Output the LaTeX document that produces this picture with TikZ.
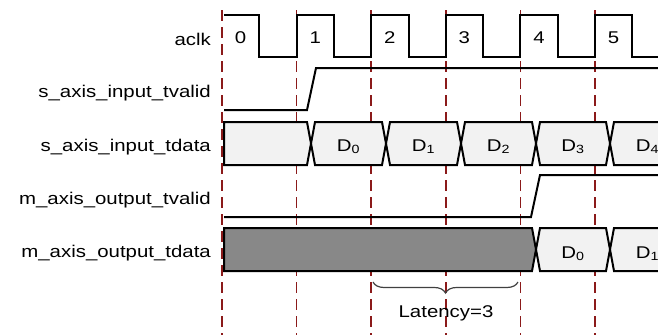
\documentclass[tikz,border=0pt]{standalone}
\usepackage{fontspec}
\setmainfont{Liberation Sans}[FakeStretch=1.2]
\usetikzlibrary{decorations.pathreplacing}

\definecolor{edgered}{RGB}{139,26,26}
\definecolor{buslight}{RGB}{242,242,242}
\definecolor{busdark}{RGB}{136,136,136}
\definecolor{bracegray}{RGB}{64,64,64}

\tikzset{
    wave/.style={line width=2pt, black, line join=miter},
    bus/.style={wave, fill=buslight},
    edgeline/.style={line width=1.7pt, edgered, dash pattern=on 11pt off 6pt},
    signame/.style={anchor=base east, inner sep=0pt, font=\fontsize{17}{20}\selectfont},
    buslabel/.style={anchor=base, inner sep=0pt, font=\fontsize{17}{20}\selectfont},
}

\begin{document}
\begin{tikzpicture}[x=1pt, y=-1pt]
    \clip (0,0) rectangle (658,335);
    \def\T{74.6}
    \def\xo{222}

    % Clock edges
    \foreach \i in {0,...,5} {
        \draw[edgeline] ({\xo+\i*\T},10) -- ({\xo+\i*\T},335);
    }

    % Signal names
    \node[signame] (aclk) at (211,45) {aclk};
    \node[signame] (sinvalid) at (211,97.5) {s\_axis\_input\_tvalid};
    \node[signame] (sindata) at (211,151) {s\_axis\_input\_tdata};
    \node[signame] (moutvalid) at (211,204) {m\_axis\_output\_tvalid};
    \node[signame] (moutdata) at (211,257.5) {m\_axis\_output\_tdata};

    % aclk
    \draw[wave] (224,15) -| (259.3,57)
        foreach \i in {1,...,5} { -| ({\xo+\i*\T},15) -| ({\xo+\i*\T+37.3},57) }
        -- (658,57);
    \foreach \i in {0,...,5} {
        \node[buslabel] (clk\i) at ({\xo+\i*\T+18.6},43.5) {\i};
    }

    % s_axis_input_tvalid
    \draw[wave] (224,110) -- (307,110) -- (316,68) -- (658,68);

    % s_axis_input_tdata
    \filldraw[bus] (224,122) -- (307,122) -- (311,143.5) -- (307,165) -- (224,165) -- cycle;
    \foreach \a/\b/\k in {311/386/0, 386/461/1, 461/536/2, 536/610/3, 610/685/4} {
        \filldraw[bus] (\a,143.5) -- (\a+4,122) -- (\b-4,122) -- (\b,143.5) -- (\b-4,165) -- (\a+4,165) -- cycle;
        \node[buslabel] (din\k) at ({(\a+\b)/2},151) {D\textsubscript{\k}};
    }

    % m_axis_output_tvalid
    \draw[wave] (224,217) -- (531,217) -- (540,175) -- (658,175);

    % m_axis_output_tdata
    \filldraw[wave, fill=busdark] (224,228) -- (532,228) -- (536,249.5) -- (532,271) -- (224,271) -- cycle;
    \foreach \a/\b/\k in {536/610/0, 610/685/1} {
        \filldraw[bus] (\a,249.5) -- (\a+4,228) -- (\b-4,228) -- (\b,249.5) -- (\b-4,271) -- (\a+4,271) -- cycle;
        \node[buslabel] (dout\k) at ({(\a+\b)/2},258) {D\textsubscript{\k}};
    }

    % Latency
    \coordinate (latL) at (373,282);
    \coordinate (latR) at (518,282);
    \draw[bracegray, line width=1.2pt, decorate, decoration={brace, mirror, amplitude=11pt}] (latL) -- (latR);
    \node[buslabel] (latency) at (446,317) {Latency=3};
\end{tikzpicture}
\end{document}
